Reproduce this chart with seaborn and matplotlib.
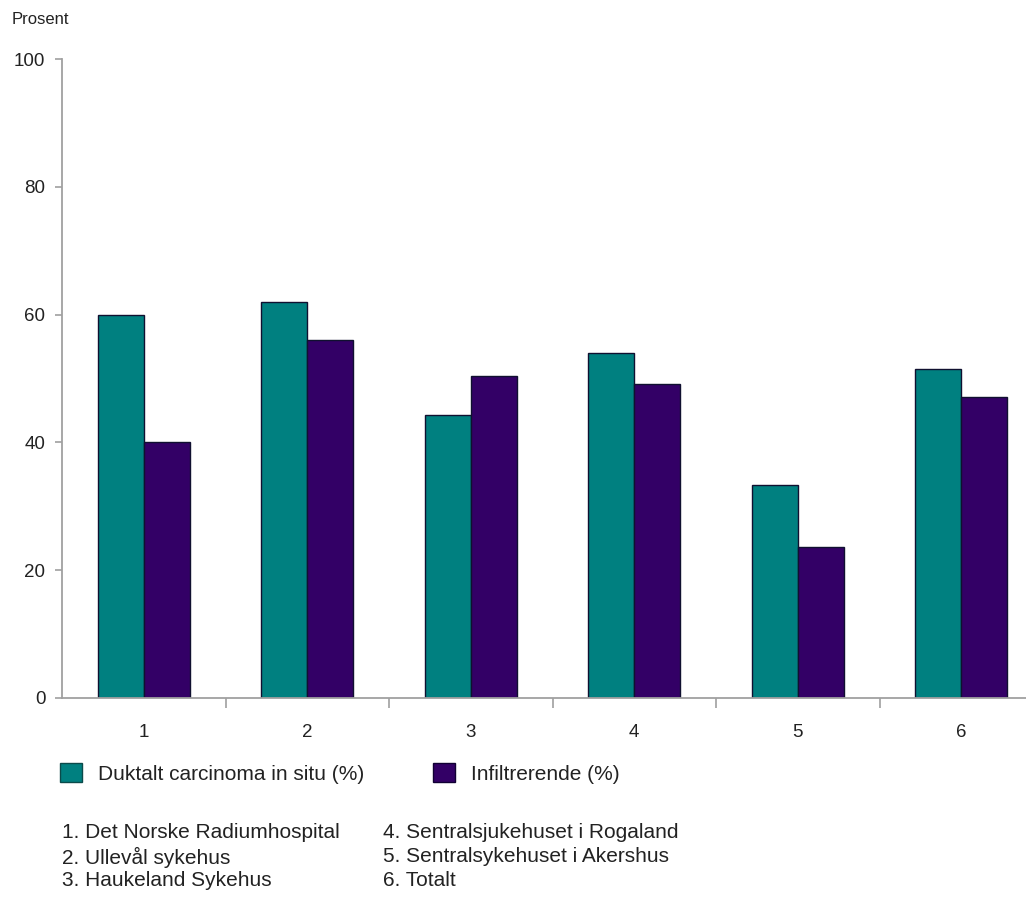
import matplotlib
matplotlib.use('Agg')
import matplotlib.pyplot as plt
import seaborn as sns
import pandas as pd
from matplotlib.patches import Patch

# ---- data ----
categories = ['1', '2', '3', '4', '5', '6']
dcis = [60.0, 62.0, 44.3, 54.0, 33.3, 51.5]
infiltrerende = [40.0, 56.1, 50.4, 49.1, 23.6, 47.1]
series = ['Duktalt carcinoma in situ (%)', 'Infiltrerende (%)']
colors = ['#008080', '#330066']
yticks = [0, 20, 40, 60, 80, 100]
y_label = 'Prosent'
notes_left = ['1. Det Norske Radiumhospital', '2. Ullevål sykehus', '3. Haukeland Sykehus']
notes_right = ['4. Sentralsjukehuset i Rogaland', '5. Sentralsykehuset i Akershus', '6. Totalt']

df = pd.DataFrame({
    'Sykehus': categories * 2,
    'Prosent': dcis + infiltrerende,
    'Serie': [series[0]] * len(categories) + [series[1]] * len(categories),
})

sns.set_theme(style='white')
plt.rcParams['font.family'] = ['Liberation Sans', 'DejaVu Sans']

W, H = 1026, 899
fig = plt.figure(figsize=(W / 100, H / 100), dpi=100)
ax = fig.add_axes([62 / W, (H - 698) / H, (W - 62) / W, (698 - 59) / H])

sns.barplot(data=df, x='Sykehus', y='Prosent', hue='Serie', palette=colors,
            saturation=1, width=0.56, gap=0, edgecolor='#101030', linewidth=1.0,
            ax=ax, legend=False)

ax.set_xlim(-0.5, 5.396)
ax.set_ylim(0, 100)
ax.set_xlabel('')
ax.set_ylabel('')
for s in ['top', 'right']:
    ax.spines[s].set_visible(False)
for s in ['left', 'bottom']:
    ax.spines[s].set_color('#a0a0a0')
    ax.spines[s].set_linewidth(1.3)

txt = '#222222'
ax.set_yticks(yticks)
ax.set_yticklabels([str(v) for v in yticks])
ax.tick_params(axis='y', left=True, length=5, width=1.2, color='#a0a0a0', direction='out',
               pad=7, labelsize=13.5, labelcolor=txt)
ax.tick_params(axis='x', which='major', bottom=False, length=0, pad=19, labelsize=13.5, labelcolor=txt)
ax.set_xticks([i + 0.5 for i in range(len(categories) - 1)], minor=True)
ax.tick_params(axis='x', which='minor', bottom=True, length=7, width=1.2, color='#a0a0a0', direction='out')

fig.text(12 / W, 1 - 20 / H, y_label, fontsize=12, color=txt, va='center', ha='left')

handles = [Patch(facecolor=colors[0], edgecolor='#0b4a4a'), Patch(facecolor=colors[1], edgecolor='#110033')]
ax.legend(handles, series, loc='upper left', bbox_to_anchor=(60 / W, 1 - 763 / H),
          bbox_transform=fig.transFigure, ncol=2, frameon=False, fontsize=15,
          handlelength=1.06, handleheight=1.06, handletextpad=0.77, columnspacing=3.3,
          borderpad=0, borderaxespad=0, labelcolor=txt)

for i, (l, r) in enumerate(zip(notes_left, notes_right)):
    y = 1 - (833 + 24 * i) / H
    fig.text(62 / W, y, l, fontsize=15, color=txt, va='center', ha='left')
    fig.text(383 / W, y, r, fontsize=15, color=txt, va='center', ha='left')

fig.savefig('out.png', dpi=100)
